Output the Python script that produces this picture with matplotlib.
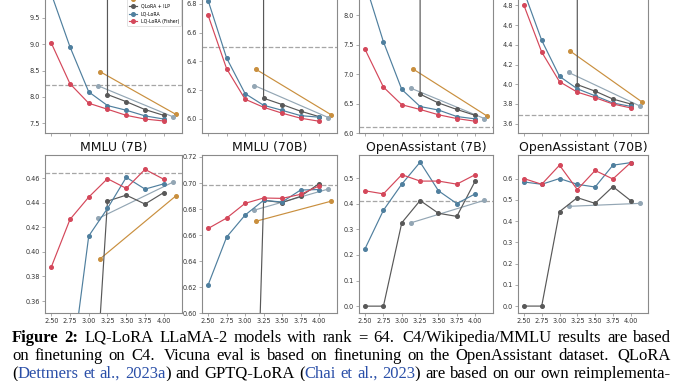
import matplotlib
matplotlib.use("Agg")
import matplotlib.pyplot as plt
from matplotlib.ticker import FixedLocator

# x values (bits per parameter)
bits = [2.5, 2.75, 3.0, 3.25, 3.5, 3.75, 4.0]
qlora_bits = [3.127, 4.127]
gptq_bits = [3.15, 4.16]
xtick_vals = [2.5, 2.75, 3.0, 3.25, 3.5, 3.75, 4.0]
xtick_labels = ["2.50", "2.75", "3.00", "3.25", "3.50", "3.75", "4.00"]

# 8 panels: top row (titles cropped off), bottom row
titles = [None, None, None, None,
          "MMLU (7B)", "MMLU (70B)", "OpenAssistant (7B)", "OpenAssistant (70B)"]

lq_lora = [
    [9.96, 8.95, 8.095, 7.836, 7.747, 7.64, 7.58],
    [6.823, 6.423, 6.176, 6.095, 6.06, 6.023, 6.012],
    [8.55, 7.55, 6.74, 6.45, 6.39, 6.28, 6.24],
    [4.94, 4.445, 4.08, 3.954, 3.883, 3.81, 3.776],
    [0.27, 0.2955, 0.413, 0.4355, 0.4608, 0.4512, 0.4555],
    [0.6218, 0.6585, 0.6754, 0.6867, 0.6854, 0.6946, 0.695],
    [0.225, 0.375, 0.477, 0.563, 0.451, 0.401, 0.439],
    [0.585, 0.574, 0.601, 0.574, 0.561, 0.664, 0.676],
]
lq_fisher = [
    [9.025, 8.25, 7.88, 7.766, 7.65, 7.58, 7.543],
    [6.72, 6.349, 6.137, 6.081, 6.04, 6.005, 5.984],
    [7.42, 6.78, 6.48, 6.40, 6.31, 6.245, 6.2],
    [4.80, 4.326, 4.026, 3.92, 3.864, 3.80, 3.76],
    [0.3876, 0.4265, 0.4447, 0.4597, 0.4518, 0.4673, 0.4592],
    [0.6651, 0.6731, 0.6844, 0.6885, 0.6882, 0.6913, 0.6977],
    [0.451, 0.439, 0.514, 0.489, 0.489, 0.477, 0.514],
    [0.601, 0.574, 0.664, 0.549, 0.639, 0.599, 0.676],
]
qlora_ilp = [
    [1e3, 1e3, 1e3, 8.045, 7.91, 7.76, 7.65],
    [1e3, 1e3, 1e3, 6.144, 6.10, 6.054, 6.016],
    [1e3, 1e3, 1e3, 6.66, 6.51, 6.40, 6.30],
    [1e3, 1e3, 1e3, 3.996, 3.93, 3.85, 3.80],
    [0.23, 0.23, 0.20, 0.4414, 0.4463, 0.439, 0.4484],
    [0.24, 0.24, 0.21, 0.6867, 0.685, 0.6897, 0.6995],
    [0.0, 0.0, 0.326, 0.413, 0.363, 0.351, 0.489],
    [0.0, 0.0, 0.445, 0.511, 0.484, 0.563, 0.497],
]
qlora = [
    [8.21, 7.62],
    [6.232, 6.009],
    [6.76, 6.245],
    [4.12, 3.78],
    [0.4273, 0.457],
    [0.6792, 0.6954],
    [0.326, 0.414],
    [0.470, 0.484],
]
gptq_lora = [
    [8.48, 7.67],
    [6.344, 6.03],
    [7.09, 6.29],
    [4.336, 3.82],
    [0.3943, 0.4456],
    [0.6707, 0.686],
    None,
    None,
]
baseline = [8.228, 6.498, 6.095, 3.685, 0.4646, 0.6984, 0.413, None]

ylims = [(7.315, 10.32), (5.902, 7.003), (6.0, 8.69), (3.506, 5.11),
         (0.350, 0.479), (0.600, 0.7215), (-0.028, 0.591), (-0.034, 0.712)]
yticks = [
    [7.5, 8.0, 8.5, 9.0, 9.5],
    [6.0, 6.2, 6.4, 6.6, 6.8],
    [6.0, 6.5, 7.0, 7.5, 8.0],
    [3.6, 3.8, 4.0, 4.2, 4.4, 4.6, 4.8],
    [0.36, 0.38, 0.40, 0.42, 0.44, 0.46],
    [0.60, 0.62, 0.64, 0.66, 0.68, 0.70, 0.72],
    [0.0, 0.1, 0.2, 0.3, 0.4, 0.5],
    [0.0, 0.1, 0.2, 0.3, 0.4, 0.5, 0.6],
]

c_red = "#d4475a"
c_blue = "#4f7f9e"
c_ilp = "#585858"
c_qlora = "#93a6b4"
c_gptq = "#c98f3e"
c_dash = "#a6a6a6"
c_spine = "#8a8a8a"

W, H = 678, 381
fig = plt.figure(figsize=(W / 100, H / 100), dpi=100, facecolor="white")

lefts = [45, 202, 359, 518]
rights = [182, 337, 493, 648]
row_bottom_px = [133, 313.3]
row_h = 158.3

mk = dict(marker="o", markersize=2.6, linewidth=0.85)
axes = []
for i in range(8):
    r, c = divmod(i, 4)
    x0 = lefts[c] / W
    w = (rights[c] - lefts[c]) / W
    y0 = (H - row_bottom_px[r]) / H
    ax = fig.add_axes([x0, y0, w, row_h / H])
    axes.append(ax)

    if gptq_lora[i] is not None:
        ax.plot(gptq_bits, gptq_lora[i], color=c_gptq, label="GPTQ-LoRA", **mk)
    ax.plot(qlora_bits, qlora[i], color=c_qlora, label="QLoRA", **mk)
    ax.plot(bits, qlora_ilp[i], color=c_ilp, label="QLoRA + ILP", **mk)
    ax.plot(bits, lq_lora[i], color=c_blue, label="LQ-LoRA", **mk)
    ax.plot(bits, lq_fisher[i], color=c_red, label="LQ-LoRA (Fisher)", **mk)
    if baseline[i] is not None:
        ax.axhline(baseline[i], color=c_dash, linestyle="--", linewidth=0.9, zorder=0)

    ax.set_xlim(2.417, 4.243)
    ax.set_ylim(*ylims[i])
    ax.yaxis.set_major_locator(FixedLocator(yticks[i]))
    ax.set_xticks(xtick_vals)
    if r == 1:
        ax.set_xticklabels(xtick_labels)
    else:
        ax.tick_params(axis="x", labelbottom=False)
    for s in ax.spines.values():
        s.set_color(c_spine)
        s.set_linewidth(0.8)
    ax.tick_params(labelsize=4.7, length=2, width=0.5, color=c_spine,
                   labelcolor="#333333", pad=1.5)
    if titles[i]:
        ax.set_title(titles[i], fontsize=9, pad=3, color="#111111")

# legend in first panel; its upper rows fall above the cropped top edge,
# so only the three visible rows carry text
h, l = axes[0].get_legend_handles_labels()
order = ["QLoRA", "GPTQ-LoRA", "QLoRA + ILP", "LQ-LoRA", "LQ-LoRA (Fisher)"]
shown = ["", "", "QLoRA + ILP", "LQ-LoRA", "LQ-LoRA (Fisher)"]
hh = [h[l.index(o)] for o in order]
leg = axes[0].legend(hh, shown, loc="lower right", bbox_to_anchor=(0.993, 0.677),
                     borderaxespad=0, fontsize=3.3, frameon=True, fancybox=True,
                     edgecolor="#cccccc", handlelength=1.8, labelspacing=0.55)
leg.get_frame().set_linewidth(0.5)
# keep frame width as if the label were there
for t in leg.get_texts()[:2]:
    t.set_visible(False)

# caption, justified word by word
blue = "#2a4fa8"
cap_lines = [
    [("Figure 2:", "black", "bold"),
     (" LQ-LoRA LLaMA-2 models with rank = 64. C4/Wikipedia/MMLU results are based", "black", "normal")],
    [("on finetuning on C4. Vicuna eval is based on finetuning on the OpenAssistant dataset. QLoRA", "black", "normal")],
    [("(", "black", "normal"), ("Dettmers et al., 2023a", blue, "normal"),
     (") and GPTQ-LoRA (", "black", "normal"), ("Chai et al., 2023", blue, "normal"),
     (") are based on our own reimplementa-", "black", "normal")],
]
baselines_px = [342, 360, 378]
x_left, x_right = 12, 671
base_fs = 11.0

fig.canvas.draw()
rend = fig.canvas.get_renderer()


def split_words(segs):
    words, cur = [], []
    for text, color, weight in segs:
        parts = text.split(" ")
        for k, p in enumerate(parts):
            if k > 0 and cur:
                words.append(cur)
                cur = []
            if p:
                cur.append((p, color, weight))
    if cur:
        words.append(cur)
    return words


def gap_weights(words):
    return [1.5 if w[-1][0].endswith(".") else 1.0 for w in words[:-1]]


def piece_width(p, weight, fs):
    t = fig.text(0, 0, p, fontsize=fs, weight=weight, family="Liberation Serif")
    wd = t.get_window_extent(rend).width
    t.remove()
    return wd


# choose font size so the longest line fits with normal interword spaces
space_em = 0.27
needed = []
for segs in cap_lines:
    words = split_words(segs)
    ww = sum(piece_width(p, wt, base_fs) for word in words for p, _, wt in word)
    sp = sum(gap_weights(words)) * space_em * base_fs * 100 / 72
    needed.append(ww + sp)
fs = base_fs * (x_right - x_left) / max(needed)

for segs, ypx in zip(cap_lines, baselines_px):
    words = split_words(segs)
    made = []
    total = 0
    for word in words:
        pieces = []
        wsum = 0
        for p, color, weight in word:
            t = fig.text(0, 1 - ypx / H, p, color=color, fontsize=fs, weight=weight,
                         family="Liberation Serif", va="baseline", ha="left")
            pw = t.get_window_extent(rend).width
            pieces.append((t, pw))
            wsum += pw
        made.append((pieces, wsum))
        total += wsum
    weights = gap_weights(words)
    unit = (x_right - x_left - total) / sum(weights)
    x = x_left
    for j, (pieces, wsum) in enumerate(made):
        xx = x
        for t, pw in pieces:
            t.set_x(xx / W)
            xx += pw
        x += wsum
        if j < len(weights):
            x += unit * weights[j]

fig.savefig("out.png", dpi=100, facecolor="white")
